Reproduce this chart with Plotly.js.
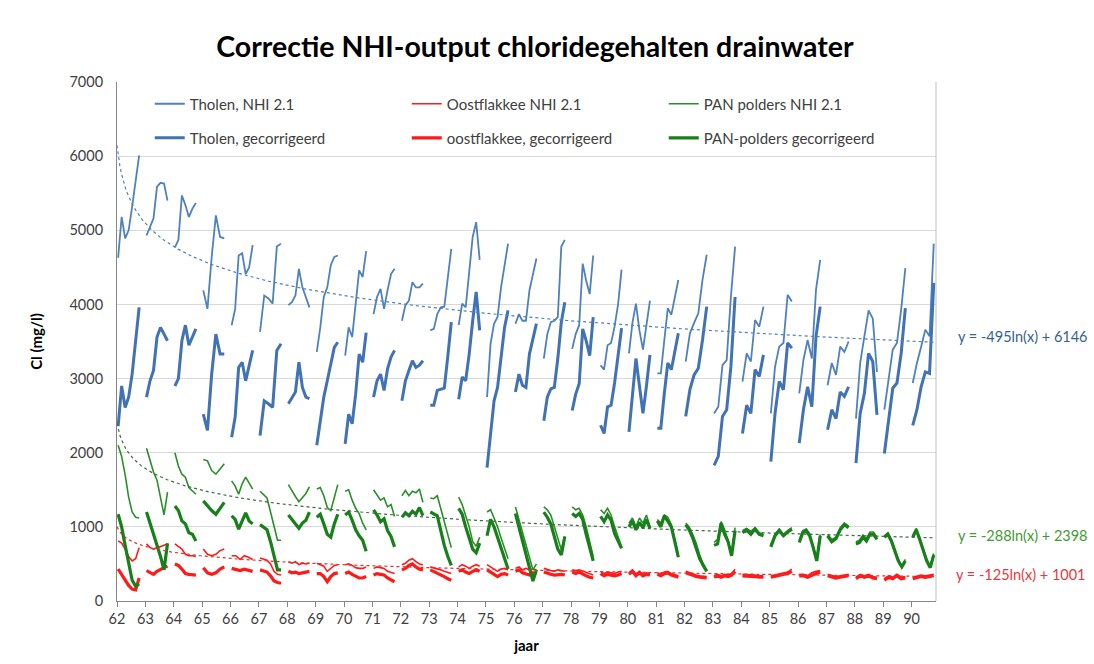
<!DOCTYPE html>
<html><head><meta charset="utf-8">
<script src="https://cdn.plot.ly/plotly-3.0.1.min.js"></script>
<style>html,body{margin:0;padding:0;background:#fff;} #chart{width:1094px;height:664px;}</style>
</head><body><div id="chart"></div>
<script>
const years = [62,63,64,65,66,67,68,69,70,71,72,73,74,75,76,77,78,79,80,81,82,83,84,85,86,87,88,89,90];
const yearLabels = years.map(String);

const tholenNHI = [
 [4630,5180,4890,5000,5320,5650,6010],[4930,5050,5160,5590,5640,5630,5400],[4770,4870,5470,5340,5180,5290,5370],
 [4190,3940,4640,5200,4910,4890],[3720,3940,4660,4690,4410,4500,4800],[3630,4120,4080,4010,4780,4820],
 [3990,4030,4120,4480,4230,4080,3960],[3360,3690,4100,4230,4530,4640,4660],[3310,3690,3560,4000,4460,4370,4720],
 [3870,4100,4210,3940,4190,4410,4480],[3780,3990,4050,4300,4230,4230,4280],[3650,3670,3870,3960,3970,4400,4750],
 [3720,4010,3960,4460,4910,5110,4600],[2750,3470,3740,3830,4230,4500,4820],[3740,3870,3780,3780,4190,4410,4620],
 [3270,3600,3760,3780,3830,4780,4870],[3400,3600,3720,4550,4320,4140,4660],[3180,3120,3450,3480,3700,4000,4470],
 [3340,3750,4010,3650,3390,3700,4050],[3070,3070,3520,3950,3860,4100,4330],[3230,3610,3750,3880,4330,4670],
 [2530,2620,3180,3250,4100,4780],[2960,3340,3230,3790,3700,3970],[2530,3160,3430,3480,4130,4040],
 [2800,3250,3520,3270,4200,4600],[2910,3210,3050,3430,3360,3500],[2460,3210,3570,3920,3810,3090],
 [2580,2980,3390,3480,3930,4490],[2940,3210,3430,3660,3570,4820]
];
const tholenCorr = [
 [2360,2900,2610,2750,3060,3510,3960],[2750,2970,3110,3560,3690,3600,3510],[2900,3000,3510,3720,3450,3560,3670],
 [2520,2300,3060,3600,3330,3330],[2210,2480,3150,3220,2970,3200,3380],[2230,2700,2660,2610,3380,3470],
 [2660,2750,2820,3220,2880,2750,2730],[2100,2430,2750,2970,3200,3420,3490],[2120,2520,2390,2790,3330,3220,3620],
 [2750,2970,3060,2840,3130,3290,3380],[2700,2970,3110,3240,3150,3180,3240],[2640,2640,2840,2860,2870,3300,3760],
 [2720,3020,2970,3330,3780,4170,3650],[1800,2300,2700,2880,3330,3690,3920],[2820,3060,2910,2880,3330,3560,3740],
 [2430,2750,2860,2880,3270,3760,4030],[2570,2790,2930,3670,3510,3310,3830],[2370,2260,2620,2640,2940,3300,3680],
 [2280,2800,3270,2900,2530,2900,3320],[2330,2330,2800,3210,3120,3370,3610],[2490,2850,3050,3140,3520,3970],
 [1830,1950,2490,2580,3160,4100],[2260,2640,2530,3120,3030,3320],[1880,2530,2960,2850,3480,3410],
 [2130,2580,2890,2620,3570,3970],[2310,2580,2460,2820,2760,2890],[1860,2530,2800,3340,3230,2510],
 [1990,2400,2870,2940,3340,3950],[2370,2580,2890,3090,3070,4290]
];
const panNHI = [
 [2100,1950,1700,1400,1200,1130,1120],[2060,1900,1740,1630,1400,1160,1470],[2000,1820,1710,1670,1530,1490,1440],
 [1910,1890,1760,1710,1780,1850],[1620,1550,1440,1580,1670,1580,1510],[1480,1430,1390,1200,1000,820,820],
 [1570,1480,1410,1340,1400,1450,1540],[1510,1530,1420,1260,1220,1400,1570],[1480,1500,1360,1250,1180,1050,960],
 [1500,1430,1360,1390,1270,1300,1140],[1420,1490,1420,1480,1460,1510,1330],[1390,1380,1420,1250,1050,900,720],
 [1400,1300,1150,1000,800,740,860],[1200,1230,1120,1000,850,700,570],[1270,1100,920,730,560,420,500],
 [1270,1230,1160,1000,820,690,870],[1270,1230,1250,1160,1000,780,600],[1230,1180,1250,1160,1000,870,730],
 [1050,1120,1000,1120,1050,1160,1000],[1100,1050,1160,1130,1030,830,620],[1050,1000,900,780,620,500,410],
 [790,830,1070,960,820,620,990],[950,980,940,990,920,900],[760,900,970,900,950,990],
 [820,950,970,900,740,560,900],[900,830,860,990,1050,1010],[800,820,890,840,930,930,860],
 [880,920,830,700,560,470,560],[880,980,850,700,560,470,640]
];
const panCorr = [
 [1170,1000,750,500,280,200,230],[1200,1050,930,780,600,420,780],[1280,1220,1080,1040,920,900,810],
 [1350,1280,1220,1170,1260,1330],[1150,1100,970,1080,1190,1080,1040],[1030,990,960,800,600,420,420],
 [1160,1100,1050,980,1050,1090,1200],[1130,1170,1040,900,860,1040,1170],[1160,1200,1090,960,880,820,670],
 [1230,1160,1070,1110,950,870,730],[1130,1190,1150,1210,1170,1260,1150],[1200,1180,1150,950,750,600,480],
 [1250,1170,1000,850,700,650,780],[880,1100,1000,860,700,550,430],[1180,1000,820,640,450,270,420],
 [1200,1130,1040,870,700,620,870],[1180,1140,1180,1100,900,700,540],[1140,1070,1160,1090,910,800,710],
 [1000,1080,960,1060,990,1100,980],[1080,1000,1150,1080,1000,800,590],[1030,960,850,710,570,480,400],
 [750,770,1050,900,800,610,950],[920,960,900,970,900,880],[730,880,950,880,930,970],
 [790,920,950,880,720,540,880],[880,800,840,960,1030,990],[770,790,860,810,900,900,830],
 [860,900,810,680,540,460,540],[860,960,830,680,540,450,620]
];
const oostNHI = [
 [810,780,700,600,540,570,720],[770,720,700,720,740,750,770],[770,740,700,630,610,610,600],
 [700,630,610,630,680,700],[610,610,560,610,590,560],[580,570,550,500,400,360,350],
 [530,510,530,490,510,500,510],[510,490,470,400,440,480,490],[490,500,480,450,440,440,460],
 [440,460,450,440,400,380,370],[490,510,550,570,530,500,490],[460,450,440,420,400,380,370],
 [460,490,470,440,470,490,470],[490,460,430,400,430,440,420],[440,460,420,440,420,430,420],
 [440,420,410,400,420,410,400],[420,410,420,400,380,360,350],[400,370,390,380,370,390,400],
 [380,420,360,400,360,380,370],[380,360,390,400,370,350,340],[400,380,360,350,340,330,330],
 [340,360,340,360,350,370,430],[360,360,350,350,340,340],[340,350,360,370,390,430],
 [360,360,340,380,400,410],[360,340,330,340,350,360],[320,360,340,360,330,320],
 [300,340,320,360,320,330],[320,340,350,340,350,360]
];
const oostCorr = [
 [430,350,280,210,160,150,310],[410,380,360,400,430,450,470],[500,480,430,370,360,355,350],
 [450,380,360,380,430,460],[440,430,410,430,410,400],[420,410,390,340,270,250,240],
 [400,380,390,370,380,390,400],[370,370,330,260,330,370,380],[370,390,360,330,310,310,330],
 [350,370,360,350,310,280,260],[420,440,480,500,460,430,420],[420,400,380,350,330,300,280],
 [400,420,390,370,400,420,400],[420,390,360,330,360,370,350],[400,420,380,370,350,380,360],
 [390,370,360,350,360,360,350],[390,370,390,360,340,320,310],[370,340,360,350,340,350,370],
 [360,400,340,380,340,360,350],[360,340,370,380,350,330,320],[380,360,340,330,320,310,310],
 [320,340,320,340,330,350,400],[340,340,330,330,320,320],[320,330,340,350,370,400],
 [340,340,320,350,370,390],[340,320,310,320,330,340],[300,340,320,340,310,300],
 [280,320,300,340,300,310],[300,320,330,320,330,340]
];

// Logarithmic trendlines as printed on the chart: y = a ln(x) + b (x = point index)
const trendTholen = {a:-495, b:6146, label:'y = -495ln(x) + 6146'};
const trendPan = {a:-288, b:2398, label:'y = -288ln(x) + 2398'};
const trendOost = {a:-125, b:1001, label:'y = -125ln(x) + 1001'};
const pointsPerYear = 7.4;

const seasonStart = 0.04, seasonSpan = 0.74;
function build(series){
  const x=[], y=[];
  series.forEach((vals,i)=>{
    const n = vals.length;
    vals.forEach((v,k)=>{ x.push(years[i]+seasonStart+k*seasonSpan/(n-1)); y.push(v); });
    x.push(years[i]+0.9); y.push(null);
  });
  return {x,y};
}
const xMin = 62, xMax = 90.86;
function trend(tr){
  const x=[], y=[];
  for(let t=xMin; t<=xMax+1e-9; t+=0.05){
    const idx = 1 + (t-xMin)*pointsPerYear;
    x.push(t); y.push(tr.a*Math.log(idx)+tr.b);
  }
  return {x,y};
}

const cBlueThin='#4f81bd', cBlueThick='#4172b4', cRed='#ff1a1a', cGreenThin='#2a8f2a', cGreenThick='#17801a';
const FONT = 'Lato, "Open Sans", sans-serif';

function line(series,name,color,width,legend){
  const d=build(series);
  return {x:d.x,y:d.y,type:'scatter',mode:'lines',name:name,connectgaps:false,
    line:{color:color,width:width},legend:legend,hoverinfo:'skip'};
}
function tline(tr,color){
  const d=trend(tr);
  return {x:d.x,y:d.y,type:'scatter',mode:'lines',showlegend:false,hoverinfo:'skip',
    line:{color:color,width:1.2,dash:'3px,3px'}};
}

const traces = [
  line(tholenNHI,'Tholen, NHI 2.1',cBlueThin,1.8,'legend'),
  line(oostNHI,'Oostflakkee NHI 2.1',cRed,1.6,'legend'),
  line(panNHI,'PAN polders NHI 2.1',cGreenThin,1.6,'legend'),
  line(tholenCorr,'Tholen, gecorrigeerd',cBlueThick,3,'legend2'),
  line(oostCorr,'oostflakkee, gecorrigeerd',cRed,3.2,'legend2'),
  line(panCorr,'PAN-polders gecorrigeerd',cGreenThick,3.2,'legend2'),
  tline(trendTholen,'#4f81bd'),
  tline(trendPan,'#3d6b3d'),
  tline(trendOost,'#e03030')
];

const legendBase = {orientation:'h',xanchor:'left',yanchor:'middle',x:0.04,
  entrywidth:212,entrywidthmode:'pixels',font:{family:FONT,size:15,color:'#404040'},
  bgcolor:'rgba(0,0,0,0)',itemwidth:30,tracegroupgap:0};

const layout = {
  width:1094,height:664,
  margin:{l:117,r:158,t:82,b:63},
  paper_bgcolor:'#fff',plot_bgcolor:'#fff',
  font:{family:FONT,color:'#404040'},
  title:{text:'<b>Correctie NHI-output chloridegehalten drainwater</b>',x:0.489,xanchor:'center',y:0.929,yanchor:'middle',
    font:{family:FONT,size:28.5,color:'#000'}},
  xaxis:{range:[xMin,xMax],tickvals:years,ticktext:yearLabels,showgrid:false,zeroline:false,
    showline:true,linecolor:'#868686',linewidth:1,mirror:false,ticks:'outside',ticklen:5,tickcolor:'#868686',
    tickfont:{family:FONT,size:14.5,color:'#404040'},
    title:{text:'<b>jaar</b>',font:{family:FONT,size:15,color:'#000'},standoff:14}},
  yaxis:{range:[0,7000],dtick:1000,tickformat:'d',showgrid:true,gridcolor:'#d9d9d9',gridwidth:1,zeroline:false,
    showline:true,linecolor:'#868686',ticks:'',ticklabelstandoff:10,tickfont:{family:FONT,size:14.5,color:'#404040'},
    title:{text:'<b>Cl (mg/l)</b>',font:{family:FONT,size:15,color:'#000'},standoff:23}},
  legend:Object.assign({},legendBase,{y:0.9576}),
  legend2:Object.assign({},legendBase,{y:0.892}),
  shapes:[{type:'line',xref:'paper',yref:'paper',x0:1,x1:1,y0:0,y1:1,line:{color:'#bfbfbf',width:1}}],
  annotations:[
    {xref:'paper',yref:'y',x:1.025,y:3561,xanchor:'left',yanchor:'middle',showarrow:false,text:trendTholen.label,
      font:{family:FONT,size:14.5,color:'#365f91'}},
    {xref:'paper',yref:'y',x:1.025,y:890,xanchor:'left',yanchor:'middle',showarrow:false,text:trendPan.label,
      font:{family:FONT,size:14.5,color:'#3f9b35'}},
    {xref:'paper',yref:'y',x:1.022,y:364,xanchor:'left',yanchor:'middle',showarrow:false,text:trendOost.label,
      font:{family:FONT,size:14.5,color:'#e8383d'}}
  ],
  showlegend:true
};

Plotly.newPlot('chart',traces,layout,{displayModeBar:false,staticPlot:true});
</script></body></html>
